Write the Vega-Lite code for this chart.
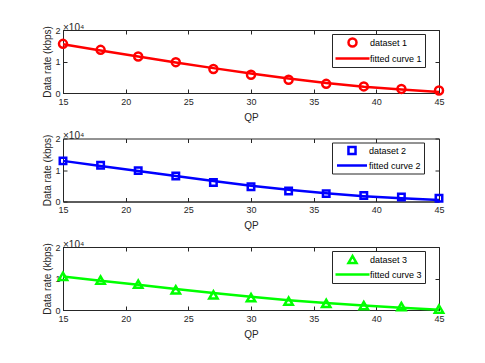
{
  "$schema": "https://vega.github.io/schema/vega-lite/v6.json",
  "padding": {"left": 42, "top": 22, "right": 10, "bottom": 10},
  "background": "white",
  "config": {
    "font": "Liberation Sans",
    "view": {"stroke": "#262626", "strokeWidth": 1},
    "axis": {
      "labelFont": "Liberation Sans", "titleFont": "Liberation Sans",
      "labelFontSize": 9, "titleFontSize": 10, "labelColor": "#262626", "titleColor": "#262626",
      "domainColor": "#262626", "tickColor": "#262626", "grid": false, "tickSize": -4,
      "titleFontWeight": "normal", "labelFlush": false
    },
    "legend": {
      "labelFont": "Liberation Sans", "labelFontSize": 9, "labelColor": "#000000",
      "strokeColor": "#262626", "fillColor": "white", "padding": 3, "rowPadding": 1,
      "symbolSize": 64, "symbolOffset": 12, "labelOffset": 12, "symbolStrokeWidth": 2.5, "symbolFillColor": "white",
      "orient": "none", "legendX": 269, "legendY": 4, "title": null
    },
    "title": {"font": "Liberation Sans", "fontSize": 10, "fontWeight": "normal", "color": "#262626", "anchor": "start", "offset": -7, "frame": "group"}
  },
  "data": {"values": [
    {"panel": 1, "qp": 15, "y": 15600, "fit": 15500},
    {"panel": 1, "qp": 18, "y": 13700, "fit": 13500},
    {"panel": 1, "qp": 21, "y": 11600, "fit": 11600},
    {"panel": 1, "qp": 24, "y": 9800, "fit": 9700},
    {"panel": 1, "qp": 27, "y": 7600, "fit": 7900},
    {"panel": 1, "qp": 30, "y": 5800, "fit": 6200},
    {"panel": 1, "qp": 33, "y": 4200, "fit": 4600},
    {"panel": 1, "qp": 36, "y": 2900, "fit": 3200},
    {"panel": 1, "qp": 39, "y": 2100, "fit": 2000},
    {"panel": 1, "qp": 42, "y": 1300, "fit": 1100},
    {"panel": 1, "qp": 45, "y": 800, "fit": 300},
    {"panel": 2, "qp": 15, "y": 12900, "fit": 12900},
    {"panel": 2, "qp": 18, "y": 11500, "fit": 11300},
    {"panel": 2, "qp": 21, "y": 9800, "fit": 9700},
    {"panel": 2, "qp": 24, "y": 8100, "fit": 8100},
    {"panel": 2, "qp": 27, "y": 6000, "fit": 6500},
    {"panel": 2, "qp": 30, "y": 4700, "fit": 5000},
    {"panel": 2, "qp": 33, "y": 3300, "fit": 3700},
    {"panel": 2, "qp": 36, "y": 2500, "fit": 2600},
    {"panel": 2, "qp": 39, "y": 1900, "fit": 1700},
    {"panel": 2, "qp": 42, "y": 1400, "fit": 1000},
    {"panel": 2, "qp": 45, "y": 1000, "fit": 500},
    {"panel": 3, "qp": 15, "y": 10700, "fit": 10600},
    {"panel": 3, "qp": 18, "y": 9500, "fit": 9300},
    {"panel": 3, "qp": 21, "y": 8200, "fit": 8000},
    {"panel": 3, "qp": 24, "y": 6400, "fit": 6700},
    {"panel": 3, "qp": 27, "y": 4800, "fit": 5400},
    {"panel": 3, "qp": 30, "y": 3900, "fit": 4200},
    {"panel": 3, "qp": 33, "y": 2800, "fit": 3100},
    {"panel": 3, "qp": 36, "y": 2100, "fit": 2200},
    {"panel": 3, "qp": 39, "y": 1400, "fit": 1400},
    {"panel": 3, "qp": 42, "y": 1100, "fit": 700},
    {"panel": 3, "qp": 45, "y": 300, "fit": 100}
  ]},
  "vconcat": [
    {
      "width": 376, "height": 63,
      "title": "×10⁴",
      "transform": [{"filter": "datum.panel === 1"}],
      "layer": [
        {"mark": {"type": "line", "color": "#FF0000", "strokeWidth": 2.5},
         "encoding": {
           "x": {"field": "qp", "type": "quantitative", "scale": {"domain": [15, 45], "nice": false}, "axis": {"values": [15,20,25,30,35,40,45], "title": "QP", "labelPadding": 8, "titlePadding": 6}},
           "y": {"field": "fit", "type": "quantitative", "scale": {"domain": [0, 20000], "nice": false}, "axis": {"values": [0,10000,20000], "labelExpr": "datum.value/10000", "title": "Data rate (kbps)", "labelPadding": 7, "titlePadding": 2}}
         }},
        {"mark": {"type": "point", "filled": false, "color": "#FF0000", "strokeWidth": 2.5, "opacity": 1, "size": 64},
         "transform": [{"calculate": "'dataset 1'", "as": "series"}],
         "encoding": {
           "x": {"field": "qp", "type": "quantitative", "axis": null},
           "y": {"field": "y", "type": "quantitative", "axis": null},
           "shape": {"field": "series", "type": "nominal", "scale": {"domain": ["dataset 1", "fitted curve 1"], "range": ["circle", "M-4.25,0L4.25,0"]},
             "legend": {"symbolStrokeColor": "#FF0000"}}
         }},
        {"mark": {"type": "point", "opacity": 0},
         "encoding": {
           "x": {"field": "qp", "type": "quantitative", "axis": {"orient": "top", "values": [15,20,25,30,35,40,45], "labels": false, "title": null, "domain": false}},
           "y": {"field": "y", "type": "quantitative", "axis": {"orient": "right", "values": [0,10000,20000], "labels": false, "title": null, "domain": false}}
         }}
      ],
      "resolve": {"axis": {"x": "independent", "y": "independent"}}
    },
    {
      "width": 376, "height": 63,
      "title": "×10⁴",
      "transform": [{"filter": "datum.panel === 2"}],
      "layer": [
        {"mark": {"type": "line", "color": "#0000FF", "strokeWidth": 2.5},
         "encoding": {
           "x": {"field": "qp", "type": "quantitative", "scale": {"domain": [15, 45], "nice": false}, "axis": {"values": [15,20,25,30,35,40,45], "title": "QP", "labelPadding": 8, "titlePadding": 6}},
           "y": {"field": "fit", "type": "quantitative", "scale": {"domain": [0, 20000], "nice": false}, "axis": {"values": [0,10000,20000], "labelExpr": "datum.value/10000", "title": "Data rate (kbps)", "labelPadding": 7, "titlePadding": 2}}
         }},
        {"mark": {"type": "point", "filled": false, "color": "#0000FF", "strokeWidth": 2.5, "opacity": 1, "size": 42},
         "transform": [{"calculate": "'dataset 2'", "as": "series"}],
         "encoding": {
           "x": {"field": "qp", "type": "quantitative", "axis": null},
           "y": {"field": "y", "type": "quantitative", "axis": null},
           "shape": {"field": "series", "type": "nominal", "scale": {"domain": ["dataset 2", "fitted curve 2"], "range": ["square", "M-4.25,0L4.25,0"]},
             "legend": {"symbolStrokeColor": "#0000FF", "symbolSize": 50}}
         }},
        {"mark": {"type": "point", "opacity": 0},
         "encoding": {
           "x": {"field": "qp", "type": "quantitative", "axis": {"orient": "top", "values": [15,20,25,30,35,40,45], "labels": false, "title": null, "domain": false}},
           "y": {"field": "y", "type": "quantitative", "axis": {"orient": "right", "values": [0,10000,20000], "labels": false, "title": null, "domain": false}}
         }}
      ],
      "resolve": {"axis": {"x": "independent", "y": "independent"}}
    },
    {
      "width": 376, "height": 63,
      "title": "×10⁴",
      "transform": [{"filter": "datum.panel === 3"}],
      "layer": [
        {"mark": {"type": "line", "color": "#00FF00", "strokeWidth": 2.5},
         "encoding": {
           "x": {"field": "qp", "type": "quantitative", "scale": {"domain": [15, 45], "nice": false}, "axis": {"values": [15,20,25,30,35,40,45], "title": "QP", "labelPadding": 8, "titlePadding": 6}},
           "y": {"field": "fit", "type": "quantitative", "scale": {"domain": [0, 20000], "nice": false}, "axis": {"values": [0,10000,20000], "labelExpr": "datum.value/10000", "title": "Data rate (kbps)", "labelPadding": 7, "titlePadding": 2}}
         }},
        {"mark": {"type": "point", "filled": false, "color": "#00FF00", "strokeWidth": 2.5, "opacity": 1, "size": 70},
         "transform": [{"calculate": "'dataset 3'", "as": "series"}],
         "encoding": {
           "x": {"field": "qp", "type": "quantitative", "axis": null},
           "y": {"field": "y", "type": "quantitative", "axis": null},
           "shape": {"field": "series", "type": "nominal", "scale": {"domain": ["dataset 3", "fitted curve 3"], "range": ["triangle-up", "M-4.25,0L4.25,0"]},
             "legend": {"symbolStrokeColor": "#00FF00"}}
         }},
        {"mark": {"type": "point", "opacity": 0},
         "encoding": {
           "x": {"field": "qp", "type": "quantitative", "axis": {"orient": "top", "values": [15,20,25,30,35,40,45], "labels": false, "title": null, "domain": false}},
           "y": {"field": "y", "type": "quantitative", "axis": {"orient": "right", "values": [0,10000,20000], "labels": false, "title": null, "domain": false}}
         }}
      ],
      "resolve": {"axis": {"x": "independent", "y": "independent"}}
    }
  ],
  "spacing": 45.5,
  "bounds": "flush",
  "resolve": {"scale": {"shape": "independent"}, "legend": {"shape": "independent"}}
}
